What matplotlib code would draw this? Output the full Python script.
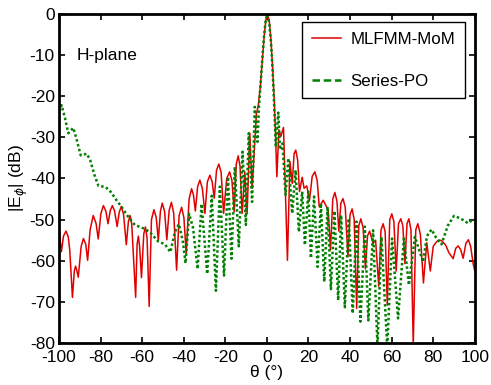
import matplotlib
matplotlib.use('Agg')
import matplotlib.pyplot as plt
from matplotlib.lines import Line2D

plt.rcParams['font.family'] = ['Liberation Sans', 'DejaVu Sans']
plt.rcParams['mathtext.fontset'] = 'dejavusans'
plt.rcParams['axes.unicode_minus'] = False

# MLFMM-MoM
theta_mom = [-100, -99.3, -98.8, -97.8, -96.6, -95.5, -94.8, -93.5, -92.6, -92.0,
             -91.4, -90.7, -89.3, -88.2, -87.1, -86.2, -85.0, -83.5, -82.1, -81.1,
             -79.8, -78.6, -77.4, -76.4, -75.3, -74.3, -73.2, -72.0, -71.0, -70.0,
             -68.9, -67.6, -66.6, -65.8, -65.0, -63.1, -62.4, -61.8, -61.2, -60.3,
             -59.2, -58.4, -57.6, -56.6, -55.5, -54.3, -53.2, -52.2, -51.2, -50.3,
             -49.2, -48.1, -47.0, -45.9, -44.8, -43.4, -42.2, -41.0, -39.9, -38.8,
             -37.4, -36.2, -35.3, -34.4, -33.3, -32.2, -31.0, -29.8, -28.6, -27.4,
             -26.3, -25.3, -24.2, -23.1, -22.0, -20.8, -19.3, -17.9, -16.8, -15.7,
             -14.7, -13.8, -12.9, -11.9, -10.6, -9.5, -8.2, -7.1, -5.0, -4.2,
             -3.2, -2.2, -1.3, -0.5, 0.3, 1.2, 2.0, 2.8, 3.5, 4.0,
             4.8, 5.8, 6.7, 8.0, 9.9, 11.1, 12.2, 13.1, 13.9, 14.8,
             15.7, 17.0, 17.9, 19.2, 20.5, 21.8, 23.1, 24.2, 25.2, 27.1,
             29.5, 30.6, 31.7, 32.7, 33.7, 34.6, 35.6, 36.6, 37.7, 39.0,
             40.0, 41.0, 42.0, 43.2, 44.2, 45.2, 46.3, 47.4, 48.4, 49.4,
             51.1, 52.3, 53.8, 54.9, 55.9, 56.9, 57.9, 59.1, 60.1, 61.1,
             62.2, 63.3, 64.4, 65.4, 66.4, 67.4, 68.3, 69.3, 70.4, 71.6,
             72.6, 73.8, 75.3, 76.9, 78.6, 80.0, 81.6, 83.0, 84.0, 86.0,
             87.5, 89.6, 90.8, 92.0, 93.2, 94.4, 95.7, 96.9, 98.0, 99.2,
             100]
e_mom = [-51.7, -55.5, -57.8, -54.0, -52.8, -54.2, -57.4, -68.9, -62.5, -61.3,
         -62.3, -64.0, -56.5, -54.6, -56.0, -59.9, -52.5, -49.0, -51.0, -54.7,
         -48.5, -46.6, -48.0, -51.0, -47.8, -46.6, -48.0, -51.7, -48.2, -46.8,
         -48.8, -56.1, -50.5, -49.0, -51.0, -68.9, -56.0, -54.0, -56.5, -64.1,
         -53.5, -51.8, -54.5, -71.1, -50.0, -47.6, -49.5, -55.1, -48.0, -46.0,
         -48.0, -54.9, -47.8, -45.8, -48.5, -62.3, -49.0, -47.0, -49.5, -58.2,
         -45.0, -42.5, -44.0, -47.9, -42.0, -40.4, -42.5, -48.5, -40.8, -39.2,
         -40.8, -44.8, -38.0, -36.5, -38.5, -48.5, -40.0, -38.4, -40.5, -48.1,
         -36.5, -34.5, -37.0, -48.5, -38.4, -48.5, -29.0, -42.4, -24.2, -22.5,
         -18.0, -11.5, -5.5, -1.5, 0.0, -2.0, -6.5, -13.5, -20.5, -27.0,
         -39.6, -28.2, -29.8, -27.6, -59.9, -35.9, -41.2, -34.0, -33.1, -35.5,
         -43.2, -39.7, -42.4, -41.8, -45.3, -39.5, -38.4, -40.5, -46.9, -45.3,
         -47.7, -57.4, -45.0, -43.4, -45.5, -52.8, -46.0, -44.9, -47.0, -59.0,
         -48.8, -47.4, -50.0, -71.6, -51.5, -49.8, -52.0, -62.0, -54.0, -52.8,
         -55.8, -55.0, -66.2, -52.5, -51.0, -53.0, -70.8, -50.0, -48.6, -50.5,
         -62.5, -51.0, -49.8, -51.5, -60.7, -51.0, -49.8, -52.5, -80.5, -52.5,
         -51.0, -53.5, -65.4, -55.6, -62.5, -56.5, -55.4, -55.0, -55.1, -56.2,
         -58.0, -59.5, -57.0, -56.4, -57.3, -59.4, -55.8, -54.9, -56.5, -60.7,
         -62.5]

# Series-PO
theta_po = [-100, -98.7, -97.0, -95.5, -93.1, -91.5, -89.5, -86.6, -85.0, -83.0,
            -81.0, -78.5, -77.5, -75.0, -72.3, -69.9, -66.7, -63.5, -59.5, -56.3,
            -52.3, -49.0, -46.4, -44.2, -42.3, -40.5, -39.1, -37.4, -35.5, -33.3,
            -31.4, -28.7, -26.5, -24.5, -22.6, -20.6, -18.7, -17.0, -15.4, -13.5,
            -11.7, -10.1, -8.7, -7.1, -5.8, -4.5, -3.8, -3.0, -2.2, -1.3,
            -0.5, 0.3, 1.2, 2.0, 2.8, 3.5, 4.3, 5.5, 6.3, 7.5,
            9.0, 10.3, 12.2, 13.8, 15.4, 17.0, 18.3, 19.9, 21.2, 22.7,
            24.4, 26.0, 27.6, 29.2, 30.8, 32.5, 34.3, 35.7, 37.5, 39.4,
            41.3, 43.1, 45.0, 47.1, 48.8, 51.1, 53.2, 55.1, 57.9, 60.2,
            63.1, 65.9, 68.3, 71.2, 73.0, 75.1, 77.0, 79.2, 81.5, 84.0,
            87.0, 90.0, 92.5, 94.4, 96.8, 99.2, 100]
e_po = [-23.8, -22.2, -25.5, -29.0, -27.7, -30.5, -34.4, -34.0, -35.5, -39.0,
        -41.8, -42.0, -42.1, -43.3, -45.3, -46.9, -49.3, -51.3, -52.1, -53.0,
        -55.3, -56.0, -57.9, -53.0, -51.1, -55.0, -60.6, -48.6, -52.0, -62.0,
        -46.2, -63.2, -44.2, -67.3, -42.0, -63.6, -39.6, -59.5, -37.2, -56.5,
        -33.5, -51.3, -29.0, -45.7, -22.6, -31.1, -22.5, -17.0, -11.0, -5.0,
        -1.3, 0.0, -2.5, -7.0, -14.0, -22.0, -32.3, -24.0, -33.0, -31.5,
        -44.0, -35.1, -48.5, -38.0, -53.0, -43.2, -56.2, -43.2, -59.4, -44.4,
        -61.5, -46.1, -65.1, -46.9, -66.9, -47.9, -69.6, -48.9, -71.3, -49.7,
        -72.8, -50.5, -74.8, -51.7, -74.5, -52.6, -81.0, -54.2, -81.0, -54.6,
        -74.0, -54.6, -65.9, -54.2, -57.0, -60.3, -54.0, -52.4, -54.5, -56.0,
        -51.5, -49.1, -49.6, -50.1, -50.9, -49.9, -50.0]

x_ticks = [-100, -80, -60, -40, -20, 0, 20, 40, 60, 80, 100]
y_ticks = [-80, -70, -60, -50, -40, -30, -20, -10, 0]

fig = plt.figure(figsize=(4.91, 3.85), dpi=100)
ax = fig.add_axes([0.120, 0.109, 0.847, 0.855])

ax.plot(theta_mom, e_mom, color='#e00000', lw=1.1)
ax.plot(theta_po, e_po, color='#008000', lw=1.8, ls=(0, (1, 1)))

ax.set_xlim(-100, 100)
ax.set_ylim(-80, 0)
ax.set_xticks(x_ticks)
ax.set_yticks(y_ticks)
ax.tick_params(direction='in', top=True, right=True, length=4, width=1.2,
               labelsize=12.5)
ax.tick_params(axis='x', pad=5)
ax.tick_params(axis='y', pad=3)
for s in ax.spines.values():
    s.set_linewidth(2)

ax.set_xlabel('θ (°)', fontsize=12.5, labelpad=0)
ax.set_ylabel(r'|E$_{\phi}$| (dB)', fontsize=12.5, labelpad=0)
ax.text(-91.5, -10, 'H-plane', fontsize=12.5, va='center')

handles = [Line2D([], [], color='#e00000', lw=1.1),
           Line2D([], [], color='#008000', lw=1.8, ls=(0, (3, 1.5)))]
leg = ax.legend(handles, ['MLFMM-MoM', 'Series-PO'], loc='upper right',
                bbox_to_anchor=(0.976, 0.974), borderaxespad=0, fontsize=12.2,
                fancybox=False, edgecolor='black', framealpha=1,
                handlelength=1.75, handletextpad=0.55, labelspacing=1.6,
                borderpad=0.55)
leg.get_frame().set_linewidth(1)

plt.savefig('out.png', dpi=100)
plt.close()
